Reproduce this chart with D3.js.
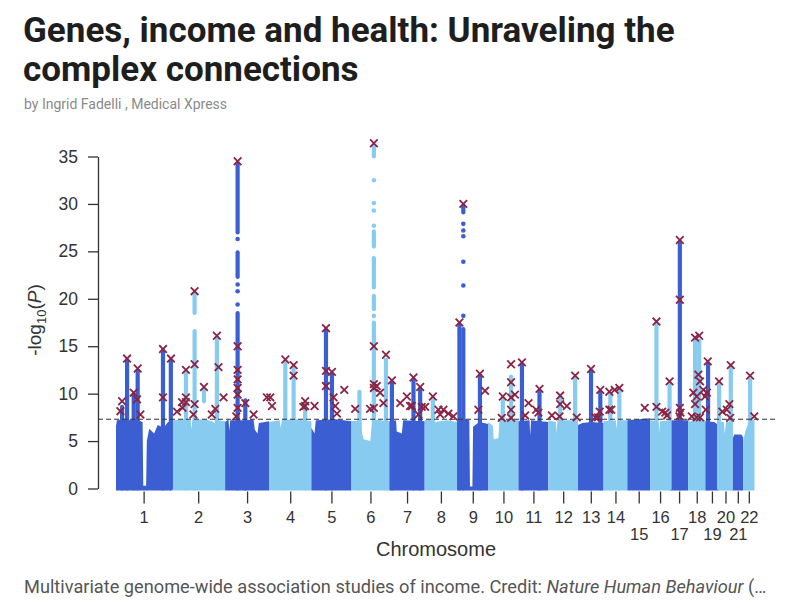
<!DOCTYPE html>
<html><head><meta charset="utf-8">
<script src="https://cdn.jsdelivr.net/npm/d3@7"></script>
<style>body{margin:0;background:#fff;} svg{display:block;}</style>
</head><body><svg id="c" width="795" height="610"></svg>
<script>
// ---------------- DATA ----------------
const chromosomes = ["1","2","3","4","5","6","7","8","9","10","11","12","13","14","15","16","17","18","19","20","21","22"];
// chromosome lengths (Mb)
const chromLengths = [249.25,243.20,198.02,191.15,180.92,171.12,159.14,146.36,141.21,135.53,135.01,133.85,115.17,107.35,102.53,90.35,81.20,78.08,59.13,63.03,48.13,51.30];
const yTicks = [0,5,10,15,20,25,30,35];
const threshold = 7.3; // genome-wide significance, -log10(5e-8)
const lowerRowLabels = ["15","17","19","21"];

// top of the dense mass of SNPs: [chromosome, position Mb, -log10 P]
const massTop = [
 [1,0,6.6],[1,4,7.2],[1,30,7.3],[1,60,7.2],[1,90,7.3],[1,120,7.0],[1,123,0.3],[1,136,0.3],[1,139,5.0],[1,150,6.3],[1,172,5.8],[1,188,6.7],[1,215,6.4],[1,235,7.0],[1,249.25,7.0],
 [2,0,6.6],[2,8,7.2],[2,60,7.3],[2,88,7.2],[2,91,6.2],[2,95,7.2],[2,150,7.3],[2,185,7.1],[2,200,6.8],[2,215,7.2],[2,243.2,7.1],
 [3,0,7.0],[3,15,7.3],[3,19,6.1],[3,23,7.2],[3,88,7.2],[3,91,6.0],[3,95,7.2],[3,128,7.3],[3,134,6.2],[3,146,5.8],[3,152,6.9],[3,198.02,7.1],
 [4,0,7.0],[4,48,7.2],[4,52,6.4],[4,58,7.2],[4,120,7.3],[4,191.15,7.1],
 [5,0,6.4],[5,14,5.8],[5,20,7.2],[5,110,7.3],[5,180.92,7.1],
 [6,0,7.1],[6,44,7.2],[6,48,5.8],[6,55,5.2],[6,85,5.0],[6,91,6.5],[6,95,7.3],[6,171.12,7.1],
 [7,0,7.1],[7,30,7.2],[7,33,6.0],[7,56,5.8],[7,62,7.2],[7,159.14,7.1],
 [8,0,7.2],[8,40,7.3],[8,44,6.1],[8,48,7.0],[8,100,7.2],[8,146.36,7.0],
 [9,0,7.2],[9,12,7.5],[9,55,7.2],[9,58,0.2],[9,69,0.2],[9,72,6.5],[9,100,7.0],[9,141.21,6.8],
 [10,0,7.0],[10,20,6.6],[10,24,5.2],[10,45,5.3],[10,50,7.2],[10,135.53,7.2],
 [11,0,7.1],[11,50,7.2],[11,53,5.6],[11,57,7.2],[11,135.01,7.0],
 [12,0,7.2],[12,34,7.0],[12,37,5.8],[12,41,7.2],[12,133.85,7.2],
 [13,0,6.7],[13,20,6.9],[13,60,7.0],[13,115.17,6.9],
 [14,0,7.1],[14,55,7.2],[14,60,6.3],[14,64,7.2],[14,107.35,7.2],
 [15,0,7.2],[15,102.53,7.4],
 [16,0,7.2],[16,38,7.1],[16,41,5.9],[16,45,7.1],[16,90.35,7.2],
 [17,0,7.2],[17,81.2,7.2],
 [18,0,7.1],[18,78.08,7.2],
 [19,0,7.1],[19,40,7.0],[19,59.13,6.7],
 [20,0,7.0],[20,24,7.0],[20,28,5.8],[20,34,7.0],[20,63.03,7.0],
 [21,0,5.2],[21,8,5.7],[21,40,5.7],[21,48.13,5.4],
 [22,0,5.0],[22,10,6.0],[22,25,7.0],[22,51.3,7.3]
];

// dense columns of associated SNPs: [chromosome, position Mb, from, to]
const peakColumns = [
 [1,27.5,0,8.6],[1,50,0,13.5],[1,79.8,0,9.9],[1,97.8,0,12.4],[1,212,0,14.5],[1,247.5,0,13.5],
 [2,66.5,0,12.3],[2,105.5,0,16.6],[2,105.5,18.5,20.5],[2,147.7,9.2,10.4],[2,206,0,15.9],
 [3,56.3,0,18.5],[3,56.3,22.3,24.9],[3,56.3,27.0,34.3],[3,91,0,9.3],
 [4,73.5,0,13.4],[4,111,0,12.8],[4,163,0,9.0],
 [5,65.8,0,16.7],[5,92.8,0,12.0],
 [6,36,0,10.2],[6,101,0,17.5],[6,101,18.9,20.3],[6,101,21.2,24.3],[6,101,25.5,27.1],[6,101,35.0,36.1],[6,155.5,0,13.6],
 [7,11.3,0,11.2],[7,108.6,0,11.5],[7,138.8,0,10.5],
 [8,37,0,9.5],
 [9,10.4,0,17.3],[9,28,0,16.8],[9,28,29.1,29.8],[9,103,0,11.9],
 [10,65,0,9.5],[10,102.3,0,11.8],
 [11,15.8,0,13.1],[11,95,0,10.3],
 [12,53.2,0,9.6],[12,120.8,0,11.7],
 [13,58.6,0,12.4],[13,100.5,0,10.2],
 [14,30.6,0,10.0],[14,71.2,0,10.4],
 [16,28.8,0,17.4],[16,88,0,11.1],
 [17,44,0,26.0],
 [18,31.5,0,15.6],[18,50,0,15.6],
 [19,12,0,13.2],
 [20,2.7,0,11.2],[20,55.4,0,12.8],
 [22,31.5,0,11.5]
];

// isolated SNPs above the dense columns: [chromosome, position Mb, -log10 P]
const sparseSNPs = [
 [3,56.3,26.3],[3,56.3,21.5],[3,56.3,20.8],[3,56.3,19.4],
 [6,101,18.2],[6,101,27.7],[6,101,29.3],[6,101,30.1],[6,101,32.5],
 [9,28,18.2],[9,28,21.4],[9,28,23.9],[9,28,26.6],[9,28,27.2],[9,28,27.9]
];

// lead SNPs (crosses): [chromosome, position Mb, -log10 P]
const leadSNPs = [
 [1,50,13.7],[1,97.8,12.65],[1,27.5,9.2],[1,19.8,8.15],[1,79.8,10.1],[1,95,9.4],[1,110,7.8],[1,212,14.7],[1,212,9.6],[1,248,13.7],
 [2,66.3,12.5],[2,66.3,9.6],[2,66.3,9.1],[2,105.3,20.8],[2,105.3,13.1],[2,105.3,8.9],[2,147.6,10.7],[2,205.8,16.1],[2,213.3,12.8],[2,236,9.6],[2,26,8.1],[2,48.7,9.1],[2,51,8.5],[2,100,7.8],[2,183,7.8],[2,198.8,8.4],
 [3,56.3,34.5],[3,56.3,15.0],[3,56.3,12.5],[3,56.3,11.5],[3,56.3,10.6],[3,56.3,9.9],[3,56.3,8.5],[3,91.2,9.0],[3,128.4,7.8],[3,188.5,9.6],[3,50,7.6],
 [4,5.9,9.6],[4,13.5,8.7],[4,73.5,13.6],[4,111,13.0],[4,111,11.9],[4,163,9.2],[4,163,8.7],[4,155,8.6],
 [5,14.4,8.7],[5,65.8,16.9],[5,65.8,12.4],[5,65.8,10.8],[5,92.8,12.3],[5,100,9.6],[5,107.7,8.7],[5,115.4,7.9],[5,148.3,10.4],
 [6,16.7,8.4],[6,101,36.4],[6,101,15.0],[6,101,11.0],[6,101,10.6],[6,101,8.5],[6,84,8.4],[6,114,10.8],[6,129,10.1],[6,144,9.0],[6,155.5,14.1],
 [7,11.3,11.4],[7,48.7,9.0],[7,78.9,9.7],[7,101.4,8.7],[7,108.6,11.7],[7,138.8,10.7],[7,146,8.6],[7,131,7.8],[7,93,8.7],
 [8,37,9.7],[8,2.3,8.6],[8,62,8.3],[8,84.7,8.3],[8,107,7.9],[8,129.5,7.6],[8,70,7.8],
 [9,28,30.0],[9,10.4,17.5],[9,103,12.1],[9,126,10.3],[9,96,8.3],
 [10,65,9.7],[10,60.4,7.45],[10,102.3,13.1],[10,102.3,11.2],[10,102.3,9.6],[10,102.3,8.3],[10,102.3,7.45],[10,119.7,9.9],
 [11,15.8,13.3],[11,45.5,9.0],[11,95,10.5],[11,80.2,8.3],[11,30.2,7.7],[11,90,8.0],
 [12,15.8,7.7],[12,53.2,9.8],[12,53.2,8.9],[12,83.4,8.7],[12,120.8,11.9],[12,50,7.6],[12,128,7.5],
 [13,58.6,12.6],[13,78,7.5],[13,100.5,10.4],[13,90,7.5],[13,98,8.1],
 [14,26,8.3],[14,26,10.2],[14,50,10.4],[14,71.2,10.6],[14,35,8.3],
 [15,78.4,8.5],
 [16,28.8,17.6],[16,28.8,8.6],[16,54.5,8.1],[16,77,7.7],[16,88,11.3],[16,69,8.0],
 [17,44,26.2],[17,44,19.9],[17,44,8.5],[17,47,8.0],[17,42,7.6],
 [18,31.5,15.9],[18,50,16.1],[18,46.4,12.0],[18,54,11.3],[18,23.9,10.1],[18,39.2,9.7],[18,69,10.4],[18,76.6,9.7],[18,31.5,8.9],[18,16.7,7.6],[18,39.2,7.5],[18,54,7.5],
 [19,10.8,13.4],[19,6.3,10.1],[19,1.8,8.3],
 [20,2.7,11.3],[20,55.4,13.0],[20,17.6,8.1],[20,37.4,8.3],[20,49.1,8.9],[20,52.3,7.45],
 [22,31.5,11.9],[22,50,7.6]
];

// ---------------- DRAWING ----------------
const DARK = "#3b5fd3", LIGHT = "#88cbf0";
const svg = d3.select("#c");
const offsets = []; let acc = 0;
chromLengths.forEach(l => { offsets.push(acc); acc += l; });
const total = acc;
const gpos = (c, p) => offsets[c-1] + p;
const colorOf = c => (c % 2 === 1 ? DARK : LIGHT);

const x = d3.scaleLinear().domain([0, total]).range([116, 754.5]);
const y = d3.scaleLinear().domain([0, 35]).range([488.5, 156.5]);

// Title, byline
svg.append("text").attr("x", 23).attr("y", 42)
  .attr("font-family", "Roboto, sans-serif").attr("font-weight", 700).attr("font-size", 35)
  .attr("fill", "#1e1e1e").text("Genes, income and health: Unraveling the");
svg.append("text").attr("x", 23).attr("y", 81)
  .attr("font-family", "Roboto, sans-serif").attr("font-weight", 700).attr("font-size", 35)
  .attr("fill", "#1e1e1e").text("complex connections");
svg.append("text").attr("x", 24).attr("y", 109)
  .attr("font-family", "Roboto, sans-serif").attr("font-size", 14)
  .attr("fill", "#8a8a8a").text("by Ingrid Fadelli , Medical Xpress");

// Mass of SNPs per chromosome
const grouped = d3.group(massTop, d => d[0]);
const area = d3.area()
  .x(d => x(gpos(d[0], d[1])))
  .y0(y(0) + 2)
  .y1(d => y(d[2]));
chromosomes.forEach((name, i) => {
  const c = i + 1;
  svg.append("path").datum(grouped.get(c))
    .attr("d", area).attr("fill", colorOf(c));
});

// Peak columns
svg.append("g").selectAll("line").data(peakColumns).join("line")
  .attr("x1", d => x(gpos(d[0], d[1]))).attr("x2", d => x(gpos(d[0], d[1])))
  .attr("y1", d => y(d[2])).attr("y2", d => y(d[3]))
  .attr("stroke", d => colorOf(d[0])).attr("stroke-width", 4.2).attr("stroke-linecap", "round");

// Sparse SNP points
svg.append("g").selectAll("circle").data(sparseSNPs).join("circle")
  .attr("cx", d => x(gpos(d[0], d[1]))).attr("cy", d => y(d[2])).attr("r", 2.3)
  .attr("fill", d => colorOf(d[0]));

// Significance line
svg.append("line").attr("x1", 98).attr("x2", 775)
  .attr("y1", y(threshold)).attr("y2", y(threshold))
  .attr("stroke", "#333").attr("stroke-width", 1.2).attr("stroke-dasharray", "5,3");

// Lead SNP crosses
const s = 3.8;
svg.append("g").selectAll("path").data(leadSNPs).join("path")
  .attr("transform", d => `translate(${x(gpos(d[0], d[1]))},${y(d[2])})`)
  .attr("d", `M${-s},${-s}L${s},${s}M${-s},${s}L${s},${-s}`)
  .attr("stroke", "#8a2444").attr("stroke-width", 1.8).attr("fill", "none");

// Y axis
const yAxis = svg.append("g").attr("transform", "translate(98,0)")
  .call(d3.axisLeft(y).tickValues(yTicks).tickSize(10).tickSizeOuter(0).tickPadding(10));
yAxis.select(".domain").attr("stroke", "#333").attr("stroke-width", 1.3);
yAxis.selectAll(".tick line").attr("stroke", "#333").attr("stroke-width", 1.3);
yAxis.selectAll(".tick text").attr("font-family", "Liberation Sans, Arial, sans-serif")
  .attr("font-size", 17.5).attr("fill", "#333");

svg.append("text").attr("transform", "translate(41,320) rotate(-90)")
  .attr("text-anchor", "middle").attr("font-family", "Liberation Sans, Arial, sans-serif")
  .attr("font-size", 19).attr("fill", "#333")
  .call(t => {
    t.append("tspan").text("-log");
    t.append("tspan").attr("font-size", 13).attr("dy", 5).text("10");
    t.append("tspan").attr("dy", -5).text("(");
    t.append("tspan").attr("font-style", "italic").text("P");
    t.append("tspan").text(")");
  });

// X axis (chromosome centres)
const centres = chromosomes.map((n, i) => offsets[i] + chromLengths[i] / 2);
const xAxis = svg.append("g").attr("transform", `translate(0,${y(0) + 3})`)
  .call(d3.axisBottom(x).tickValues(centres).tickSize(12).tickFormat((d, i) => chromosomes[i]));
xAxis.select(".domain").remove();
xAxis.selectAll(".tick line").attr("stroke", "#333").attr("stroke-width", 1.3);
xAxis.selectAll(".tick text")
  .attr("font-family", "Liberation Sans, Arial, sans-serif").attr("font-size", 16.5).attr("fill", "#333")
  .attr("dy", null)
  .attr("y", (d, i) => lowerRowLabels.includes(chromosomes[i]) ? 48 : 31);

svg.append("text").attr("x", 436).attr("y", 556).attr("text-anchor", "middle")
  .attr("font-family", "Liberation Sans, Arial, sans-serif").attr("font-size", 20).attr("fill", "#333")
  .text("Chromosome");

// Caption
svg.append("text").attr("x", 24).attr("y", 593)
  .attr("font-family", "Roboto, sans-serif").attr("font-size", 18.2).attr("fill", "#555")
  .call(t => {
    t.append("tspan").text("Multivariate genome-wide association studies of income. Credit: ");
    t.append("tspan").attr("font-style", "italic").text("Nature Human Behaviour");
    t.append("tspan").text(" (…");
  });
</script></body></html>
